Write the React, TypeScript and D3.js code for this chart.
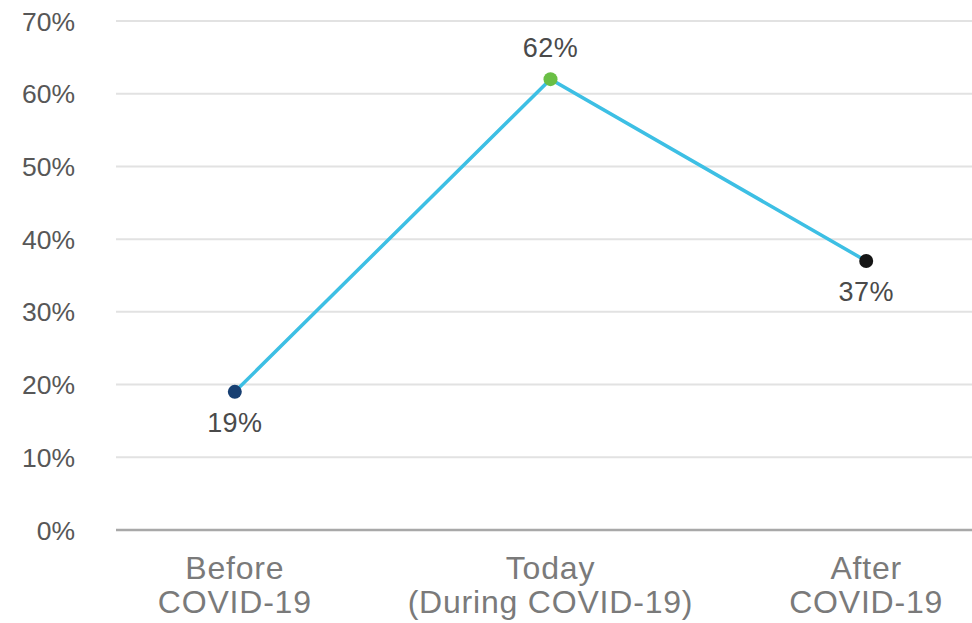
import React from "react";
import * as d3 from "d3";

const categories: string[][] = [
  ["Before", "COVID-19"],
  ["Today", "(During COVID-19)"],
  ["After", "COVID-19"],
];
const values: number[] = [19, 62, 37];
const pointColors: string[] = ["#173f72", "#6abf45", "#151515"];
const labelAbove: boolean[] = [false, true, false];
const yTicks: number[] = [0, 10, 20, 30, 40, 50, 60, 70];

const W = 972;
const H = 623;
const FONT = "'Liberation Sans', Arial, sans-serif";

export default function App() {
  const keys = categories.map((c) => c.join(" "));
  const x = d3.scalePoint<string>().domain(keys).range([118, 983]).padding(0.37);
  const y = d3.scaleLinear().domain([0, 70]).range([530, 21]);

  const pts: [number, number][] = values.map((v, i) => [x(keys[i]) as number, y(v)]);
  const line = d3.line<[number, number]>()(pts) as string;

  return (
    <svg
      width={W}
      height={H}
      style={{ position: "absolute", left: 0, top: 0, background: "#fff" }}
      fontFamily={FONT}
    >
      {yTicks.map((t) => (
        <g key={t}>
          <line
            x1={116}
            x2={972}
            y1={y(t)}
            y2={y(t)}
            stroke={t === 0 ? "#a8a8a8" : "#e2e2e2"}
            strokeWidth={t === 0 ? 2.5 : 2}
          />
          <text
            x={75}
            y={y(t)}
            dy="0.36em"
            textAnchor="end"
            fontSize={26.5}
            fill="#575757"
          >
            {t}%
          </text>
        </g>
      ))}

      <path d={line} fill="none" stroke="#3dbfe4" strokeWidth={3.5} />

      {pts.map(([px, py], i) => (
        <g key={i}>
          <circle cx={px} cy={py} r={7} fill={pointColors[i]} />
          <text
            x={px}
            y={labelAbove[i] ? py - 22 : py + 40}
            textAnchor="middle"
            fontSize={27}
            letterSpacing={0.4}
            fill="#4a4a4a"
          >
            {values[i]}%
          </text>
        </g>
      ))}

      {categories.map((lines, i) => (
        <text
          key={i}
          x={x(keys[i]) as number}
          textAnchor="middle"
          fontSize={32}
          letterSpacing={0.8}
          fill="#7a7a7a"
        >
          {lines.map((l, j) => (
            <tspan key={j} x={x(keys[i]) as number} y={579 + j * 34}>
              {l}
            </tspan>
          ))}
        </text>
      ))}
    </svg>
  );
}
